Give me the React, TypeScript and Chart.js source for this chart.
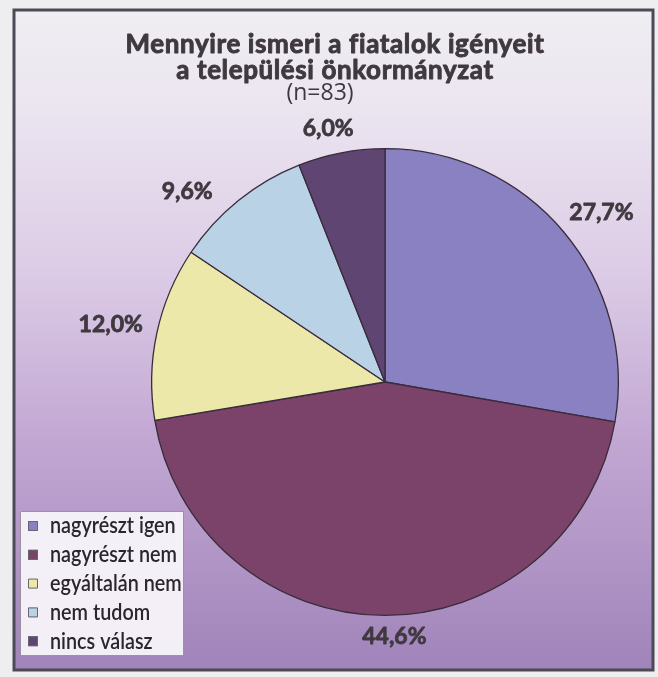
import { useEffect, useRef } from 'react';
import { Chart, registerables } from 'chart.js';

Chart.register(...registerables);

// ---- data ----
const categories = ['nagyrészt igen', 'nagyrészt nem', 'egyáltalán nem', 'nem tudom', 'nincs válasz'];
const values = [27.7, 44.6, 12.0, 9.6, 6.0];
const titleLines = ['Mennyire ismeri a fiatalok igényeit', 'a települési önkormányzat'];
const subtitle = '(n=83)';

// ---- styles ----
const sliceColors = ['#8981c1', '#7b4369', '#ece8aa', '#b9d2e6', '#5e4572'];
const labelAngleNudge = [1.9, -2.3, -0.2, -7, -1.8]; // degrees
const labelRadialNudge = [42, 20, 47, 42, 27]; // px beyond outer radius
const TEXT = '#3f393f';

const fmt = (v: number) => v.toFixed(1).replace('.', ',') + '%';

const heavyText = (ctx: CanvasRenderingContext2D, t: string, x: number, y: number, w: number) => {
  ctx.strokeStyle = ctx.fillStyle as string;
  ctx.lineWidth = w;
  ctx.lineJoin = 'round';
  ctx.strokeText(t, x, y);
  ctx.fillText(t, x, y);
};

const bgPlugin = {
  id: 'bgFrame',
  beforeDraw(chart: any) {
    const ctx = chart.ctx as CanvasRenderingContext2D;
    const W = chart.width, H = chart.height;
    ctx.save();
    ctx.fillStyle = '#eeeef0';
    ctx.fillRect(0, 0, W, H);
    const fx = 14, fy = 10, fw = 639, fh = 660;
    const g = ctx.createLinearGradient(0, fy, 0, fy + fh);
    g.addColorStop(0, '#efeef2');
    g.addColorStop(0.15, '#ebe5f0');
    g.addColorStop(0.4, '#dccbe6');
    g.addColorStop(0.65, '#c2a7d3');
    g.addColorStop(1, '#a084ba');
    ctx.fillStyle = g;
    ctx.fillRect(fx, fy, fw, fh);
    ctx.strokeStyle = '#4c4a54';
    ctx.lineWidth = 3;
    ctx.strokeRect(fx, fy, fw, fh);
    ctx.restore();
  },
};

const overlayPlugin = {
  id: 'overlay',
  afterDraw(chart: any) {
    const ctx = chart.ctx as CanvasRenderingContext2D;
    ctx.save();
    // title
    ctx.fillStyle = TEXT;
    ctx.textAlign = 'center';
    ctx.textBaseline = 'alphabetic';
    ctx.font = 'bold 26px Lato, "Open Sans", sans-serif';
    (ctx as any).letterSpacing = '0.6px';
    heavyText(ctx, titleLines[0], 335, 53, 0.9);
    heavyText(ctx, titleLines[1], 335, 79, 0.9);
    (ctx as any).letterSpacing = '0px';
    ctx.font = '23px "Open Sans", sans-serif';
    ctx.fillText(subtitle, 320, 100);

    // value labels
    const meta = chart.getDatasetMeta(0);
    ctx.font = 'bold 23px Lato, "Open Sans", sans-serif';
    ctx.textBaseline = 'middle';
    meta.data.forEach((arc: any, i: number) => {
      const p = arc.getProps(['x', 'y', 'startAngle', 'endAngle', 'outerRadius'], true);
      const a = (p.startAngle + p.endAngle) / 2 + (labelAngleNudge[i] * Math.PI) / 180;
      const r = p.outerRadius + labelRadialNudge[i];
      const v = chart.data.datasets[0].data[i] as number;
      heavyText(ctx, fmt(v), p.x + r * Math.cos(a), p.y + r * Math.sin(a) + 1, 0.8);
    });

    // legend
    const bx = 20, by = 511, bw = 163, bh = 144;
    ctx.fillStyle = 'rgba(248,244,250,0.95)';
    ctx.fillRect(bx, by, bw, bh);
    ctx.strokeStyle = '#9a92a0';
    ctx.lineWidth = 1;
    ctx.strokeRect(bx + 0.5, by + 0.5, bw, bh);
    const labels = chart.data.labels as string[];
    const colors = chart.data.datasets[0].backgroundColor as string[];
    ctx.font = '600 23px Lato, "Open Sans", sans-serif';
    ctx.textAlign = 'left';
    ctx.textBaseline = 'middle';
    labels.forEach((lab, i) => {
      const cy = 526 + i * 28.8;
      ctx.fillStyle = colors[i];
      ctx.fillRect(28, cy - 5, 10, 10);
      ctx.strokeStyle = '#6a6470';
      ctx.lineWidth = 1;
      ctx.strokeRect(28.5, cy - 4.5, 9, 9);
      ctx.fillStyle = '#2a262c';
      ctx.save();
      ctx.translate(50, cy);
      ctx.scale(0.86, 1);
      ctx.fillText(lab, 0, 0);
      ctx.restore();
    });
    ctx.restore();
  },
};

export default function App() {
  const ref = useRef<HTMLCanvasElement>(null);
  useEffect(() => {
    const canvas = ref.current!;
    const chart = new Chart(canvas, {
      type: 'pie',
      data: {
        labels: categories,
        datasets: [
          {
            data: values,
            backgroundColor: sliceColors,
            borderColor: '#3a2c3c',
            borderWidth: 1.3,
            hoverOffset: 0,
          },
        ],
      },
      options: {
        responsive: false,
        animation: false,
        devicePixelRatio: 1,
        events: [],
        layout: { padding: { left: 151, right: 39, top: 148, bottom: 61 } },
        plugins: {
          legend: { display: false },
          title: { display: false },
          tooltip: { enabled: false },
        },
      },
      plugins: [bgPlugin, overlayPlugin],
    } as any);
    return () => chart.destroy();
  }, []);
  return (
    <div style={{ position: 'absolute', left: 0, top: 0, width: 658, height: 677 }}>
      <canvas ref={ref} width={658} height={677} style={{ display: 'block', width: 658, height: 677 }} />
    </div>
  );
}
